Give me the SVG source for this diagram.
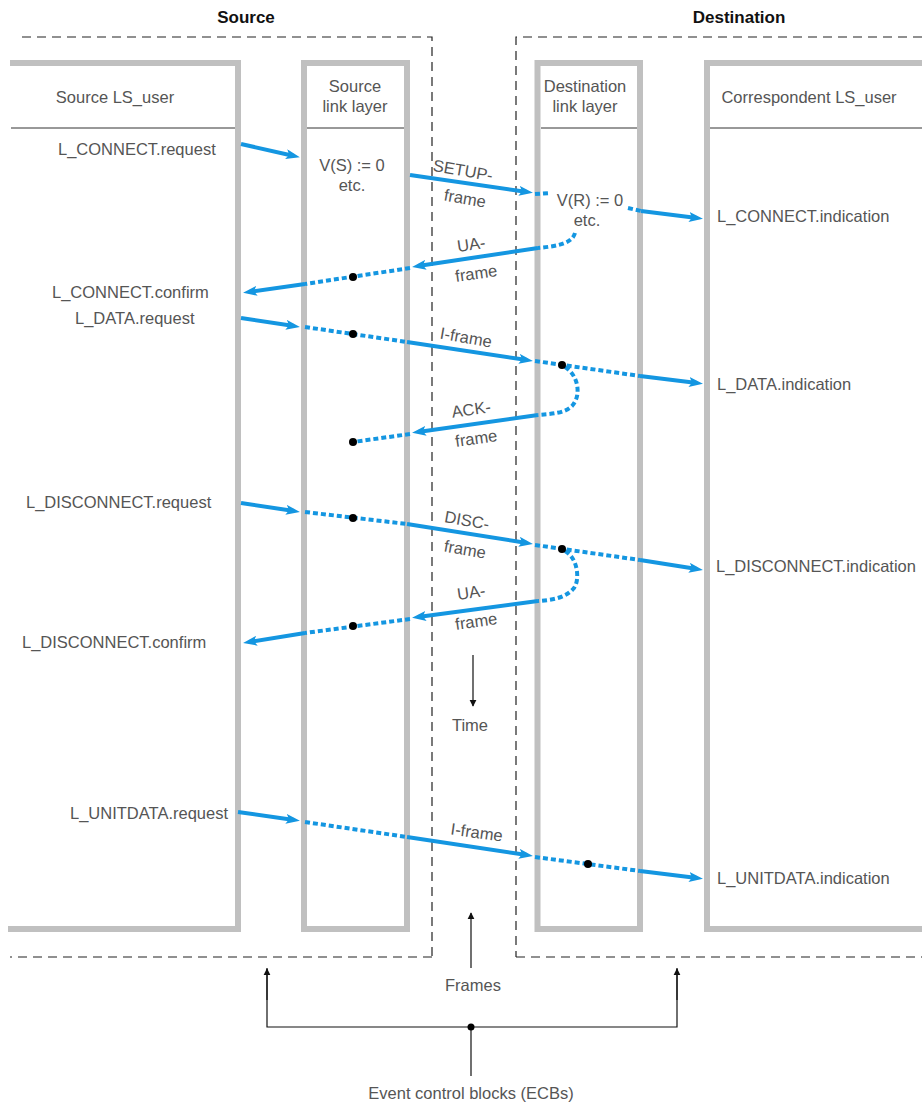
<svg xmlns="http://www.w3.org/2000/svg" width="922" height="1105" viewBox="0 0 922 1105">
<style>
.box{fill:none;stroke:#c0c0c0;stroke-width:6}
.sep{stroke:#333;stroke-width:1}
.bnd{fill:none;stroke:#222;stroke-width:1.2;stroke-dasharray:9 6}
.t{font-family:"Liberation Sans",Arial,sans-serif;font-size:16.5px;fill:#555}
.m{text-anchor:middle}
.h{font-family:"Liberation Sans",Arial,sans-serif;font-size:17px;font-weight:bold;fill:#111;text-anchor:middle}
.s{fill:none;stroke:#1496e1;stroke-width:4}
.d{fill:none;stroke:#1496e1;stroke-width:4;stroke-dasharray:5 3}
.k{fill:none;stroke:#111;stroke-width:1.2}
.dot{fill:#000}
</style>
<defs>
<marker id="ab" viewBox="0 0 14 10" refX="8" refY="5" markerWidth="14" markerHeight="10" markerUnits="userSpaceOnUse" orient="auto">
<path d="M0,0 L14,5 L0,10 L3,5 z" fill="#1496e1"/>
</marker>
<marker id="ak" viewBox="0 0 10 12" refX="9" refY="6" markerWidth="7" markerHeight="12" markerUnits="userSpaceOnUse" orient="auto">
<path d="M0,1 L10,6 L0,11 z" fill="#111"/>
</marker>
</defs>
<rect width="922" height="1105" fill="#fff"/>

<g id="boundaries">
<text class="h" x="246" y="23">Source</text>
<text class="h" x="739" y="23">Destination</text>
<path class="bnd" d="M22,37 H432 V957"/>
<path class="bnd" d="M432,957 H10" stroke="#555"/>
<path class="bnd" d="M922,37 H516 V957"/>
<path class="bnd" d="M516,957 H922" stroke="#555"/>
</g>

<g id="source-ls-user">
<path class="box" d="M10,63 H238 V929 H8"/>
<line class="sep" x1="11" y1="128" x2="235" y2="128"/>
<text class="t m" x="115" y="103">Source LS_user</text>
<text class="t" x="58" y="155">L_CONNECT.request</text>
<text class="t" x="52" y="298">L_CONNECT.confirm</text>
<text class="t" x="75" y="324">L_DATA.request</text>
<text class="t" x="26" y="508">L_DISCONNECT.request</text>
<text class="t" x="22" y="648">L_DISCONNECT.confirm</text>
<text class="t" x="70" y="819">L_UNITDATA.request</text>
</g>

<g id="source-link-layer">
<rect class="box" x="304" y="63" width="103" height="866"/>
<line class="sep" x1="307" y1="128" x2="404" y2="128"/>
<text class="t m" x="355" y="92">Source</text>
<text class="t m" x="355" y="112">link layer</text>
<text class="t m" x="352" y="171">V(S) := 0</text>
<text class="t m" x="352" y="191">etc.</text>
</g>

<g id="destination-link-layer">
<rect class="box" x="537.5" y="63" width="102.5" height="866"/>
<line class="sep" x1="541" y1="128" x2="637" y2="128"/>
<text class="t m" x="585" y="92">Destination</text>
<text class="t m" x="585" y="112">link layer</text>
<text class="t m" x="590" y="206">V(R) := 0</text>
<text class="t m" x="587" y="226">etc.</text>
</g>

<g id="correspondent-ls-user">
<path class="box" d="M922,63 H707 V929 H922"/>
<line class="sep" x1="710" y1="128" x2="922" y2="128"/>
<text class="t m" x="809" y="103">Correspondent LS_user</text>
<text class="t" x="717" y="222">L_CONNECT.indication</text>
<text class="t" x="717" y="390">L_DATA.indication</text>
<text class="t" x="716" y="572">L_DISCONNECT.indication</text>
<text class="t" x="717" y="884">L_UNITDATA.indication</text>
</g>

<g id="connectors">
<path class="s" d="M241,144 L294,156" marker-end="url(#ab)"/>
<path class="s" d="M410,175 L527,192" marker-end="url(#ab)"/>
<path class="d" d="M535,194 L550,193"/>
<path class="d" d="M628,208 L641,211"/>
<path class="s" d="M641,211 L697,218" marker-end="url(#ab)"/>
<path class="d" d="M575,233 C572,243 560,246 538,248"/>
<path class="s" d="M538,248 L418,266" marker-end="url(#ab)"/>
<path class="d" d="M410,268 L305,284"/>
<path class="s" d="M305,284 L249,292" marker-end="url(#ab)"/>
<path class="s" d="M241,318 L294,326" marker-end="url(#ab)"/>
<path class="d" d="M305,327 L407,342"/>
<path class="s" d="M407,342 L527,360" marker-end="url(#ab)"/>
<path class="d" d="M535,361 L640,376"/>
<path class="s" d="M640,376 L697,383" marker-end="url(#ab)"/>
<path class="d" d="M565,367 C578,375 582,395 572,406 C565,413 552,414 538,415"/>
<path class="s" d="M538,415 L418,432" marker-end="url(#ab)"/>
<path class="d" d="M410,434 L353,442"/>
<path class="s" d="M241,503 L294,511" marker-end="url(#ab)"/>
<path class="d" d="M305,512 L407,524"/>
<path class="s" d="M407,524 L527,543" marker-end="url(#ab)"/>
<path class="d" d="M535,545 L640,560"/>
<path class="s" d="M640,560 L697,569" marker-end="url(#ab)"/>
<path class="d" d="M565,551 C578,558 580,580 574,588 C566,598 552,600 538,601"/>
<path class="s" d="M538,601 L418,617" marker-end="url(#ab)"/>
<path class="d" d="M410,619 L305,633"/>
<path class="s" d="M305,633 L249,642" marker-end="url(#ab)"/>
<path class="s" d="M238,812 L294,820" marker-end="url(#ab)"/>
<path class="d" d="M305,822 L407,837"/>
<path class="s" d="M407,837 L527,855" marker-end="url(#ab)"/>
<path class="d" d="M535,857 L640,871"/>
<path class="s" d="M640,871 L697,878" marker-end="url(#ab)"/>

<circle class="dot" cx="353" cy="277" r="4"/>
<circle class="dot" cx="353" cy="334" r="4"/>
<circle class="dot" cx="562" cy="365" r="4"/>
<circle class="dot" cx="353" cy="442" r="4"/>
<circle class="dot" cx="353" cy="518" r="4"/>
<circle class="dot" cx="562" cy="549" r="4"/>
<circle class="dot" cx="353" cy="626" r="4"/>
<circle class="dot" cx="588" cy="864" r="4"/>

<text class="t m" transform="rotate(10 462 176)" x="462" y="176">SETUP-</text>
<text class="t m" transform="rotate(10 464 204)" x="464" y="204">frame</text>
<text class="t m" transform="rotate(-8 472 250)" x="472" y="250">UA-</text>
<text class="t m" transform="rotate(-8 477 279)" x="477" y="279">frame</text>
<text class="t m" transform="rotate(10 465 343)" x="465" y="343">I-frame</text>
<text class="t m" transform="rotate(-8 472 415)" x="472" y="415">ACK-</text>
<text class="t m" transform="rotate(-8 477 444)" x="477" y="444">frame</text>
<text class="t m" transform="rotate(10 466 526)" x="466" y="526">DISC-</text>
<text class="t m" transform="rotate(10 464 555)" x="464" y="555">frame</text>
<text class="t m" transform="rotate(-8 472 598)" x="472" y="598">UA-</text>
<text class="t m" transform="rotate(-8 477 627)" x="477" y="627">frame</text>
<text class="t m" transform="rotate(8 476 838)" x="476" y="838">I-frame</text>
</g>

<g id="time">
<line class="k" x1="473" y1="655" x2="473" y2="706" marker-end="url(#ak)"/>
<text class="t m" x="470" y="731">Time</text>
</g>

<g id="frames">
<line class="k" x1="471" y1="968" x2="471" y2="913" marker-end="url(#ak)"/>
<text class="t m" x="473" y="991">Frames</text>
</g>

<g id="ecbs">
<path class="k" d="M267,968 V1027 H677 V968"/>
<line class="k" x1="267" y1="1000" x2="267" y2="969" marker-end="url(#ak)"/>
<line class="k" x1="677" y1="1000" x2="677" y2="969" marker-end="url(#ak)"/>
<line class="k" x1="471" y1="1027" x2="471" y2="1076"/>
<circle class="dot" cx="471" cy="1027" r="3.5"/>
<text class="t m" x="471" y="1099">Event control blocks (ECBs)</text>
</g>
</svg>
